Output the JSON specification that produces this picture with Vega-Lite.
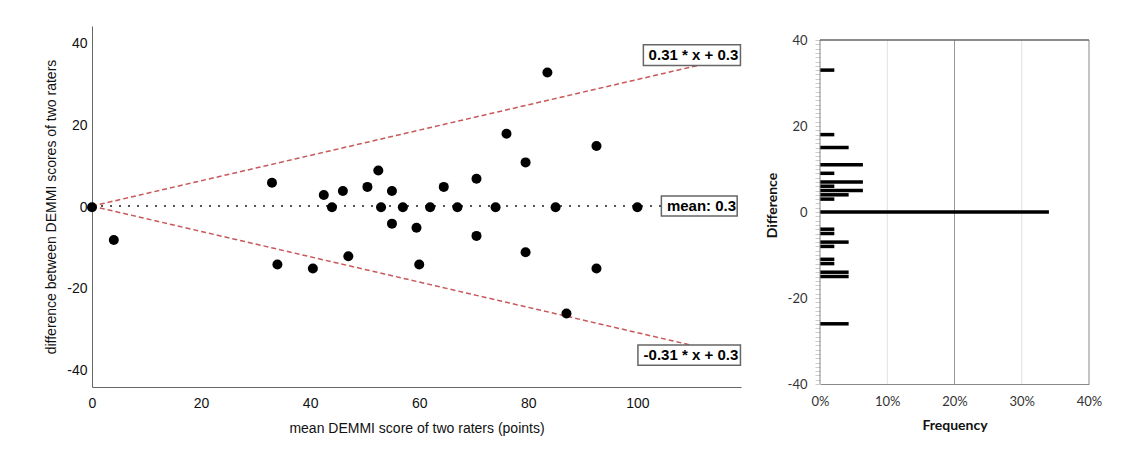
{
  "$schema": "https://vega.github.io/schema/vega-lite/v6.json",
  "background": "white",
  "padding": {"left": 44, "top": 26, "right": 5, "bottom": 5},
  "config": {"view": {"stroke": null}, "font": "Liberation Sans"},
  "spacing": 23,
  "hconcat": [
    {
      "width": 649,
      "height": 361,
      "layer": [
        {
          "data": {"values": [
            {"x0": 0, "y0": 0.3, "x1": 111, "y1": 34.71},
            {"x0": 0, "y0": 0.3, "x1": 111, "y1": -34.11}
          ]},
          "mark": {"type": "rule", "color": "#c8585a", "strokeDash": [5, 3], "strokeWidth": 1.5},
          "encoding": {
            "x": {"field": "x0", "type": "quantitative", "scale": {"domain": [0, 119], "nice": false, "zero": false},
              "axis": {"values": [0, 20, 40, 60, 80, 100], "title": "mean DEMMI score of two raters (points)", "ticks": false, "grid": false, "domainColor": "#666", "labelFontSize": 14, "labelColor": "#111", "titleFontSize": 14, "titleFontWeight": "normal", "titleColor": "#111", "labelPadding": 9, "titlePadding": 11, "labelFlush": false}},
            "y": {"field": "y0", "type": "quantitative", "scale": {"domain": [-44, 44.4], "nice": false, "zero": false},
              "axis": {"values": [-40, -20, 0, 20, 40], "labelExpr": "datum.value + ''", "title": "difference between DEMMI scores of two raters", "ticks": false, "grid": false, "domainColor": "#666", "labelFontSize": 14, "labelColor": "#111", "titleFontSize": 14, "titleFontWeight": "normal", "titleColor": "#111", "labelPadding": 5, "titlePadding": 8, "labelFlush": false}},
            "x2": {"field": "x1"},
            "y2": {"field": "y1"}
          }
        },
        {
          "data": {"values": [{"x0": 0, "x1": 110, "m": 0.3}]},
          "mark": {"type": "rule", "color": "#555", "strokeDash": [2, 7], "strokeWidth": 2},
          "encoding": {
            "x": {"field": "x0", "type": "quantitative"},
            "x2": {"field": "x1"},
            "y": {"field": "m", "type": "quantitative"}
          }
        },
        {
          "data": {"values": [
            {"mean": 0, "diff": 0}, {"mean": 4, "diff": -8}, {"mean": 33, "diff": 6}, {"mean": 34, "diff": -14},
            {"mean": 40.5, "diff": -15}, {"mean": 42.5, "diff": 3}, {"mean": 44, "diff": 0}, {"mean": 46, "diff": 4},
            {"mean": 47, "diff": -12}, {"mean": 50.5, "diff": 5}, {"mean": 52.5, "diff": 9}, {"mean": 53, "diff": 0},
            {"mean": 55, "diff": 4}, {"mean": 55, "diff": -4}, {"mean": 57, "diff": 0}, {"mean": 59.5, "diff": -5},
            {"mean": 60, "diff": -14}, {"mean": 62, "diff": 0}, {"mean": 64.5, "diff": 5}, {"mean": 67, "diff": 0},
            {"mean": 70.5, "diff": 7}, {"mean": 70.5, "diff": -7}, {"mean": 74, "diff": 0}, {"mean": 76, "diff": 18},
            {"mean": 79.5, "diff": 11}, {"mean": 79.5, "diff": -11}, {"mean": 83.5, "diff": 33}, {"mean": 85, "diff": 0},
            {"mean": 87, "diff": -26}, {"mean": 92.5, "diff": 15}, {"mean": 92.5, "diff": -15}, {"mean": 100, "diff": 0}
          ]},
          "mark": {"type": "circle", "size": 100, "color": "black", "opacity": 1},
          "encoding": {
            "x": {"field": "mean", "type": "quantitative"},
            "y": {"field": "diff", "type": "quantitative"}
          }
        },
        {
          "data": {"values": [
            {"xa": 101.1, "xb": 118.9, "ya": 39.8, "yb": 34.7},
            {"xa": 104.4, "xb": 118.3, "ya": 2.8, "yb": -2.1},
            {"xa": 100.1, "xb": 118.9, "ya": -33.7, "yb": -38.7}
          ]},
          "mark": {"type": "rect", "fill": "white", "stroke": "#666", "strokeWidth": 1.5},
          "encoding": {
            "x": {"field": "xa", "type": "quantitative"},
            "x2": {"field": "xb"},
            "y": {"field": "ya", "type": "quantitative"},
            "y2": {"field": "yb"}
          }
        },
        {
          "data": {"values": [
            {"x": 118.5, "y": 37.3, "t": "0.31 * x + 0.3"},
            {"x": 118.1, "y": 0.37, "t": "mean: 0.3"},
            {"x": 118.5, "y": -36.2, "t": "-0.31 * x + 0.3"}
          ]},
          "mark": {"type": "text", "align": "right", "baseline": "middle", "fontSize": 15, "fontWeight": "bold", "color": "black"},
          "encoding": {
            "x": {"field": "x", "type": "quantitative"},
            "y": {"field": "y", "type": "quantitative"},
            "text": {"field": "t"}
          }
        }
      ]
    },
    {
      "width": 269,
      "height": 358,
      "layer": [
        {
          "data": {"values": [{"g": 0.1, "lo": -40, "hi": 40}, {"g": 0.3, "lo": -40, "hi": 40}]},
          "mark": {"type": "rule", "color": "#e0e0e0", "strokeWidth": 1},
          "encoding": {
            "x": {"field": "g", "type": "quantitative", "title": "Frequency", "scale": {"domain": [0, 0.4], "nice": false, "padding": 0},
              "axis": {"values": [0, 0.1, 0.2, 0.3, 0.4], "format": ".0%", "title": "Frequency",
                "titleFont": "Lato", "titleFontWeight": "bold", "titleFontSize": 14, "titleColor": "#111",
                "grid": false, "ticks": false, "domainColor": "#888", "labelFont": "Lato", "labelFontSize": 13, "labelColor": "#333",
                "labelPadding": 11, "titlePadding": 10, "labelFlush": false}},
            "y": {"field": "lo", "type": "quantitative", "title": "Difference", "scale": {"domain": [-40, 43.26], "nice": false, "zero": false, "padding": 0},
              "axis": {"values": [-40,-39,-38,-37,-36,-35,-34,-33,-32,-31,-30,-29,-28,-27,-26,-25,-24,-23,-22,-21,-20,-19,-18,-17,-16,-15,-14,-13,-12,-11,-10,-9,-8,-7,-6,-5,-4,-3,-2,-1,0,1,2,3,4,5,6,7,8,9,10,11,12,13,14,15,16,17,18,19,20,21,22,23,24,25,26,27,28,29,30,31,32,33,34,35,36,37,38,39,40],
                "labelExpr": "datum.value % 20 == 0 ? datum.value + '' : ''",
                "title": "Difference", "titleFont": "Lato", "titleFontWeight": "bold", "titleFontSize": 14, "titleColor": "#111",
                "grid": false, "domain": false, "ticks": true, "tickColor": "#ccc", "tickSize": 5,
                "labelFont": "Lato", "labelFontSize": 13, "labelColor": "#333", "labelPadding": 8, "titlePadding": 8, "labelFlush": false, "labelOverlap": false}},
            "y2": {"field": "hi"}
          }
        },
        {
          "data": {"values": [{"g": 0.2, "lo": -40, "hi": 40}]},
          "mark": {"type": "rule", "color": "#999", "strokeWidth": 1},
          "encoding": {
            "x": {"field": "g", "type": "quantitative", "title": "Frequency",
              "axis": {"values": [0, 0.1, 0.2, 0.3, 0.4], "format": ".0%", "title": "Frequency",
                "titleFont": "Lato", "titleFontWeight": "bold", "titleFontSize": 14, "titleColor": "#111",
                "grid": false, "ticks": false, "domainColor": "#888", "labelFont": "Lato", "labelFontSize": 13, "labelColor": "#333",
                "labelPadding": 11, "titlePadding": 10, "labelFlush": false}},
            "y": {"field": "lo", "type": "quantitative", "title": "Difference",
              "axis": {"values": [-40,-39,-38,-37,-36,-35,-34,-33,-32,-31,-30,-29,-28,-27,-26,-25,-24,-23,-22,-21,-20,-19,-18,-17,-16,-15,-14,-13,-12,-11,-10,-9,-8,-7,-6,-5,-4,-3,-2,-1,0,1,2,3,4,5,6,7,8,9,10,11,12,13,14,15,16,17,18,19,20,21,22,23,24,25,26,27,28,29,30,31,32,33,34,35,36,37,38,39,40],
                "labelExpr": "datum.value % 20 == 0 ? datum.value + '' : ''",
                "title": "Difference", "titleFont": "Lato", "titleFontWeight": "bold", "titleFontSize": 14, "titleColor": "#111",
                "grid": false, "domain": false, "ticks": true, "tickColor": "#ccc", "tickSize": 5,
                "labelFont": "Lato", "labelFontSize": 13, "labelColor": "#333", "labelPadding": 8, "titlePadding": 8, "labelFlush": false, "labelOverlap": false}},
            "y2": {"field": "hi"}
          }
        },
        {
          "data": {"values": [
            {"diff": 33, "pct": 0.0213}, {"diff": 18, "pct": 0.0213}, {"diff": 15, "pct": 0.0426},
            {"diff": 11, "pct": 0.0638}, {"diff": 9, "pct": 0.0213}, {"diff": 7, "pct": 0.0638},
            {"diff": 6, "pct": 0.0213}, {"diff": 5, "pct": 0.0638}, {"diff": 4, "pct": 0.0426},
            {"diff": 3, "pct": 0.0213}, {"diff": 0, "pct": 0.3404}, {"diff": -4, "pct": 0.0213},
            {"diff": -5, "pct": 0.0213}, {"diff": -7, "pct": 0.0426}, {"diff": -8, "pct": 0.0213},
            {"diff": -11, "pct": 0.0213}, {"diff": -12, "pct": 0.0213}, {"diff": -14, "pct": 0.0426},
            {"diff": -15, "pct": 0.0426}, {"diff": -26, "pct": 0.0426}
          ]},
          "mark": {"type": "bar", "orient": "horizontal", "height": 3.5, "color": "black"},
          "encoding": {
            "y": {"field": "diff", "type": "quantitative", "title": "Difference",
              "axis": {"values": [-40,-39,-38,-37,-36,-35,-34,-33,-32,-31,-30,-29,-28,-27,-26,-25,-24,-23,-22,-21,-20,-19,-18,-17,-16,-15,-14,-13,-12,-11,-10,-9,-8,-7,-6,-5,-4,-3,-2,-1,0,1,2,3,4,5,6,7,8,9,10,11,12,13,14,15,16,17,18,19,20,21,22,23,24,25,26,27,28,29,30,31,32,33,34,35,36,37,38,39,40],
                "labelExpr": "datum.value % 20 == 0 ? datum.value + '' : ''",
                "title": "Difference", "titleFont": "Lato", "titleFontWeight": "bold", "titleFontSize": 14, "titleColor": "#111",
                "grid": false, "domain": false, "ticks": true, "tickColor": "#ccc", "tickSize": 5,
                "labelFont": "Lato", "labelFontSize": 13, "labelColor": "#333", "labelPadding": 8, "titlePadding": 8, "labelFlush": false, "labelOverlap": false}},
            "x": {"field": "pct", "type": "quantitative", "title": "Frequency",
              "axis": {"values": [0, 0.1, 0.2, 0.3, 0.4], "format": ".0%", "title": "Frequency",
                "titleFont": "Lato", "titleFontWeight": "bold", "titleFontSize": 14, "titleColor": "#111",
                "grid": false, "ticks": false, "domainColor": "#888", "labelFont": "Lato", "labelFontSize": 13, "labelColor": "#333",
                "labelPadding": 11, "titlePadding": 10, "labelFlush": false}}
          }
        },
        {
          "data": {"values": [{"g": 0, "lo": -40, "hi": 40}, {"g": 0.4, "lo": -40, "hi": 40}]},
          "mark": {"type": "rule", "color": "#888", "strokeWidth": 1},
          "encoding": {
            "x": {"field": "g", "type": "quantitative", "title": "Frequency",
              "axis": {"values": [0, 0.1, 0.2, 0.3, 0.4], "format": ".0%", "title": "Frequency",
                "titleFont": "Lato", "titleFontWeight": "bold", "titleFontSize": 14, "titleColor": "#111",
                "grid": false, "ticks": false, "domainColor": "#888", "labelFont": "Lato", "labelFontSize": 13, "labelColor": "#333",
                "labelPadding": 11, "titlePadding": 10, "labelFlush": false}},
            "y": {"field": "lo", "type": "quantitative", "title": "Difference",
              "axis": {"values": [-40,-39,-38,-37,-36,-35,-34,-33,-32,-31,-30,-29,-28,-27,-26,-25,-24,-23,-22,-21,-20,-19,-18,-17,-16,-15,-14,-13,-12,-11,-10,-9,-8,-7,-6,-5,-4,-3,-2,-1,0,1,2,3,4,5,6,7,8,9,10,11,12,13,14,15,16,17,18,19,20,21,22,23,24,25,26,27,28,29,30,31,32,33,34,35,36,37,38,39,40],
                "labelExpr": "datum.value % 20 == 0 ? datum.value + '' : ''",
                "title": "Difference", "titleFont": "Lato", "titleFontWeight": "bold", "titleFontSize": 14, "titleColor": "#111",
                "grid": false, "domain": false, "ticks": true, "tickColor": "#ccc", "tickSize": 5,
                "labelFont": "Lato", "labelFontSize": 13, "labelColor": "#333", "labelPadding": 8, "titlePadding": 8, "labelFlush": false, "labelOverlap": false}},
            "y2": {"field": "hi"}
          }
        },
        {
          "data": {"values": [{"a": 0, "b": 0.4, "top": 40}]},
          "mark": {"type": "rule", "color": "#666", "strokeWidth": 1.5},
          "encoding": {
            "x": {"field": "a", "type": "quantitative", "title": "Frequency",
              "axis": {"values": [0, 0.1, 0.2, 0.3, 0.4], "format": ".0%", "title": "Frequency",
                "titleFont": "Lato", "titleFontWeight": "bold", "titleFontSize": 14, "titleColor": "#111",
                "grid": false, "ticks": false, "domainColor": "#888", "labelFont": "Lato", "labelFontSize": 13, "labelColor": "#333",
                "labelPadding": 11, "titlePadding": 10, "labelFlush": false}},
            "x2": {"field": "b"},
            "y": {"field": "top", "type": "quantitative", "title": "Difference",
              "axis": {"values": [-40,-39,-38,-37,-36,-35,-34,-33,-32,-31,-30,-29,-28,-27,-26,-25,-24,-23,-22,-21,-20,-19,-18,-17,-16,-15,-14,-13,-12,-11,-10,-9,-8,-7,-6,-5,-4,-3,-2,-1,0,1,2,3,4,5,6,7,8,9,10,11,12,13,14,15,16,17,18,19,20,21,22,23,24,25,26,27,28,29,30,31,32,33,34,35,36,37,38,39,40],
                "labelExpr": "datum.value % 20 == 0 ? datum.value + '' : ''",
                "title": "Difference", "titleFont": "Lato", "titleFontWeight": "bold", "titleFontSize": 14, "titleColor": "#111",
                "grid": false, "domain": false, "ticks": true, "tickColor": "#ccc", "tickSize": 5,
                "labelFont": "Lato", "labelFontSize": 13, "labelColor": "#333", "labelPadding": 8, "titlePadding": 8, "labelFlush": false, "labelOverlap": false}}
          }
        }
      ]
    }
  ]
}
